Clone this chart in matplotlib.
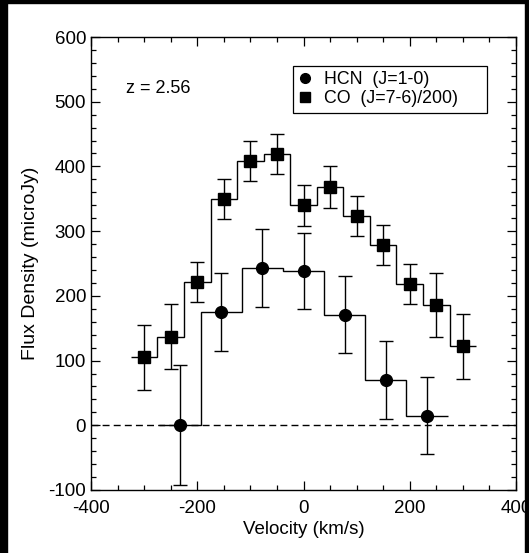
import numpy as np
import matplotlib
matplotlib.use("Agg")
import matplotlib.pyplot as plt
from matplotlib.ticker import MultipleLocator
from matplotlib.lines import Line2D
from matplotlib.patches import Rectangle

plt.rcParams['font.family'] = ['Liberation Sans', 'DejaVu Sans']
plt.rcParams['axes.unicode_minus'] = False

# HCN (J=1-0) spectrum
hcn_vel = [-232.5, -155.0, -77.5, 0.0, 77.5, 155.0, 232.5]
hcn_flux = [0, 175, 243, 238, 171, 70, 15]
hcn_err = [93, 60, 60, 59, 60, 60, 60]

# CO (J=7-6) spectrum, scaled down by 200
co_vel = [-300, -250, -200, -150, -100, -50, 0, 50, 100, 150, 200, 250, 300]
co_flux = [105, 137, 221, 350, 408, 419, 340, 368, 323, 278, 218, 186, 122]
co_err = [50, 50, 31, 31, 31, 31, 32, 32, 31, 31, 31, 49, 50]


def bin_edges(centres):
    c = np.asarray(centres, dtype=float)
    mid = (c[1:] + c[:-1]) / 2
    return np.concatenate([[c[0] - (mid[0] - c[0])], mid,
                           [c[-1] + (c[-1] - mid[-1])]])


fig = plt.figure(figsize=(5.29, 5.53), dpi=100)
ax = fig.add_axes([91 / 529, 1 - 490 / 553, 425 / 529, 453 / 553])

# black frame strips along the edges
for x0, y0, w, h in [(0, 0, 7, 553), (0, 550, 529, 3), (525, 0, 4, 553)]:
    fig.patches.append(Rectangle((x0 / 529, y0 / 553), w / 529, h / 553,
                                 transform=fig.transFigure, color='black',
                                 zorder=10))

ax.axhline(0, color='black', lw=1, ls=(0, (5, 3)), zorder=1)

ax.stairs(hcn_flux, bin_edges(hcn_vel), baseline=None, color='black', lw=1)
ax.stairs(co_flux, bin_edges(co_vel), baseline=None, color='black', lw=1)

ax.errorbar(hcn_vel, hcn_flux, yerr=hcn_err, fmt='o', color='black',
            ms=8.5, elinewidth=1, capsize=4.7, capthick=1, zorder=3)
ax.errorbar(co_vel, co_flux, yerr=co_err, fmt='s', color='black',
            ms=8.5, elinewidth=1, capsize=4.7, capthick=1, zorder=3)

ax.text(-334, 521, 'z = 2.56', fontsize=13, ha='left', va='center')

handles = [
    Line2D([], [], marker='o', color='black', ls='none', ms=7),
    Line2D([], [], marker='s', color='black', ls='none', ms=6.5),
]
leg = ax.legend(handles, ['HCN  (J=1-0)', 'CO  (J=7-6)/200)'],
                loc='upper left', bbox_to_anchor=(0.4746, 0.8256, 0.4564, 0.1104),
                mode='expand', borderaxespad=0, fancybox=False, framealpha=1,
                edgecolor='black', fontsize=12.8, handlelength=0.8,
                handletextpad=0.65, labelspacing=0.12, borderpad=0.3)
leg.get_frame().set_linewidth(0.9)

ax.set_xlim(-400, 400)
ax.set_ylim(-100, 600)
ax.xaxis.set_major_locator(MultipleLocator(200))
ax.xaxis.set_minor_locator(MultipleLocator(50))
ax.yaxis.set_major_locator(MultipleLocator(100))
ax.yaxis.set_minor_locator(MultipleLocator(20))
ax.tick_params(which='both', direction='in', top=True, right=True,
               width=0.9, labelsize=13.5)
ax.tick_params(which='major', length=6.5)
ax.tick_params(which='minor', length=3.6)
ax.tick_params(axis='x', pad=7)
ax.tick_params(axis='y', pad=3.5)
for s in ax.spines.values():
    s.set_linewidth(1)

ax.set_xlabel('Velocity (km/s)', fontsize=13.5, labelpad=3)
ax.set_ylabel('Flux Density (microJy)', fontsize=14, labelpad=7)

fig.savefig('out.png', dpi=100)
